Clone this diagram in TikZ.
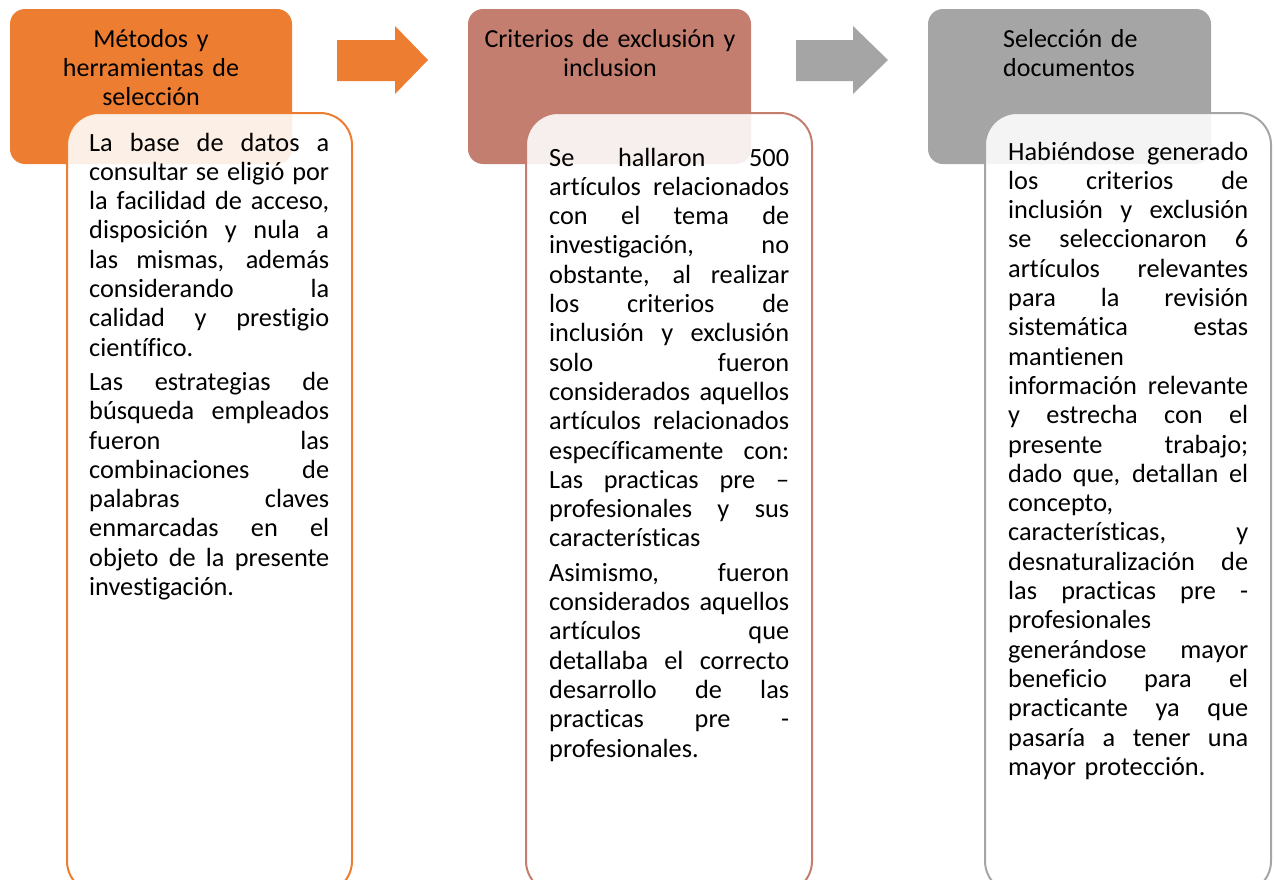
\documentclass[tikz,border=0pt]{standalone}
\usepackage{fontspec}
\setmainfont{Carlito}[Ligatures=NoCommon]
\usetikzlibrary{calc}
\definecolor{naranja}{RGB}{237,125,49}
\definecolor{rojizo}{RGB}{196,126,111}
\definecolor{gris}{RGB}{165,165,165}
% one justified line, and the last line of a paragraph
\newcommand\jline[1]{\hbox to\linewidth{\spaceskip=0.22em plus 1fil minus 0.06em\relax#1}}
\newcommand\lline[1]{\hbox to\linewidth{#1\hfil}}
\tikzset{
	cabeza/.style={inner sep=0pt, font=\fontsize{26}{29.3}\selectfont},
	cuerpo/.style={inner sep=0pt, anchor=base west, text width=240pt,
		font=\fontsize{26.3}{29.3}\selectfont},
	tarjeta/.style={line width=2pt, fill=white, fill opacity=0.88, rounded corners=32pt}
}

\begin{document}
\begin{tikzpicture}[x=1pt, y=-1pt]
			%%%%% START %%%%%
			\useasboundingbox (0, 0) rectangle (1274, 879);
			\clip (0, 0) rectangle (1274, 879);
			
			\fill[naranja, rounded corners=15pt] (10, 9) rectangle (292, 164);
			\fill[rojizo, rounded corners=15pt] (468, 9) rectangle (751, 164);
			\fill[gris, rounded corners=15pt] (928, 9) rectangle (1211, 164);
			
			\fill[naranja] (337, 40) -- (395, 40) -- (395, 26) -- (428, 60) -- (395, 94) -- (395, 81) -- (337, 81) -- cycle;
			\fill[gris] (796, 40) -- (853, 40) -- (853, 26) -- (888, 60) -- (853, 94) -- (853, 81) -- (796, 81) -- cycle;
			
			\node[cabeza, anchor=base, text width=270pt, align=center] (cabMetodos) at (151, 47) {M\'etodos y\\herramientas de\\selecci\'on};
			\node[cabeza, anchor=base, text width=270pt, align=center] (cabCriterios) at (610, 47) {Criterios de exclusi\'on y\\inclusion};
			\node[cabeza, anchor=base west, text width=200pt, align=left] (cabSeleccion) at (1003, 47) {Selecci\'on de\\documentos};
			
			\draw[tarjeta, draw=naranja] (67, 113) rectangle (352, 893);
			\draw[tarjeta, draw=rojizo] (526, 113) rectangle (812, 893);
			\draw[tarjeta, draw=gris] (985, 113) rectangle (1271, 893);
			
			\node[cuerpo] (txtMetodos) at (89, 151) {%
				\jline{La base de datos a}
				\jline{consultar se eligió por}
				\jline{la facilidad de acceso,}
				\jline{disposición y nula a}
				\jline{las mismas, además}
				\jline{considerando la}
				\jline{calidad y prestigio}
				\lline{científico.}
				\vskip 5pt
				\jline{Las estrategias de}
				\jline{búsqueda empleados}
				\jline{fueron las}
				\jline{combinaciones de}
				\jline{palabras claves}
				\jline{enmarcadas en el}
				\jline{objeto de la presente}
				\lline{investigación.}};
			
			\node[cuerpo] (txtCriterios) at (549, 166) {%
				\jline{Se hallaron 500}
				\jline{artículos relacionados}
				\jline{con el tema de}
				\jline{investigación, no}
				\jline{obstante, al realizar}
				\jline{los criterios de}
				\jline{inclusión y exclusión}
				\jline{solo fueron}
				\jline{considerados aquellos}
				\jline{artículos relacionados}
				\jline{específicamente con:}
				\jline{Las practicas pre –}
				\jline{profesionales y sus}
				\lline{características}
				\vskip 5pt
				\jline{Asimismo, fueron}
				\jline{considerados aquellos}
				\jline{artículos que}
				\jline{detallaba el correcto}
				\jline{desarrollo de las}
				\jline{practicas pre -}
				\lline{profesionales.}};
			
			\node[cuerpo] (txtSeleccion) at (1008, 160) {%
				\jline{Habiéndose generado}
				\jline{los criterios de}
				\jline{inclusión y exclusión}
				\jline{se seleccionaron 6}
				\jline{artículos relevantes}
				\jline{para la revisión}
				\jline{sistemática estas}
				\lline{mantienen}
				\jline{información relevante}
				\jline{y estrecha con el}
				\jline{presente trabajo;}
				\jline{dado que, detallan el}
				\lline{concepto,}
				\jline{características, y}
				\jline{desnaturalización de}
				\jline{las practicas pre -}
				\lline{profesionales}
				\jline{generándose mayor}
				\jline{beneficio para el}
				\jline{practicante ya que}
				\jline{pasaría a tener una}
				\lline{mayor protección.}};
			
			%%%%% END %%%%%
\end{tikzpicture}
\end{document}
